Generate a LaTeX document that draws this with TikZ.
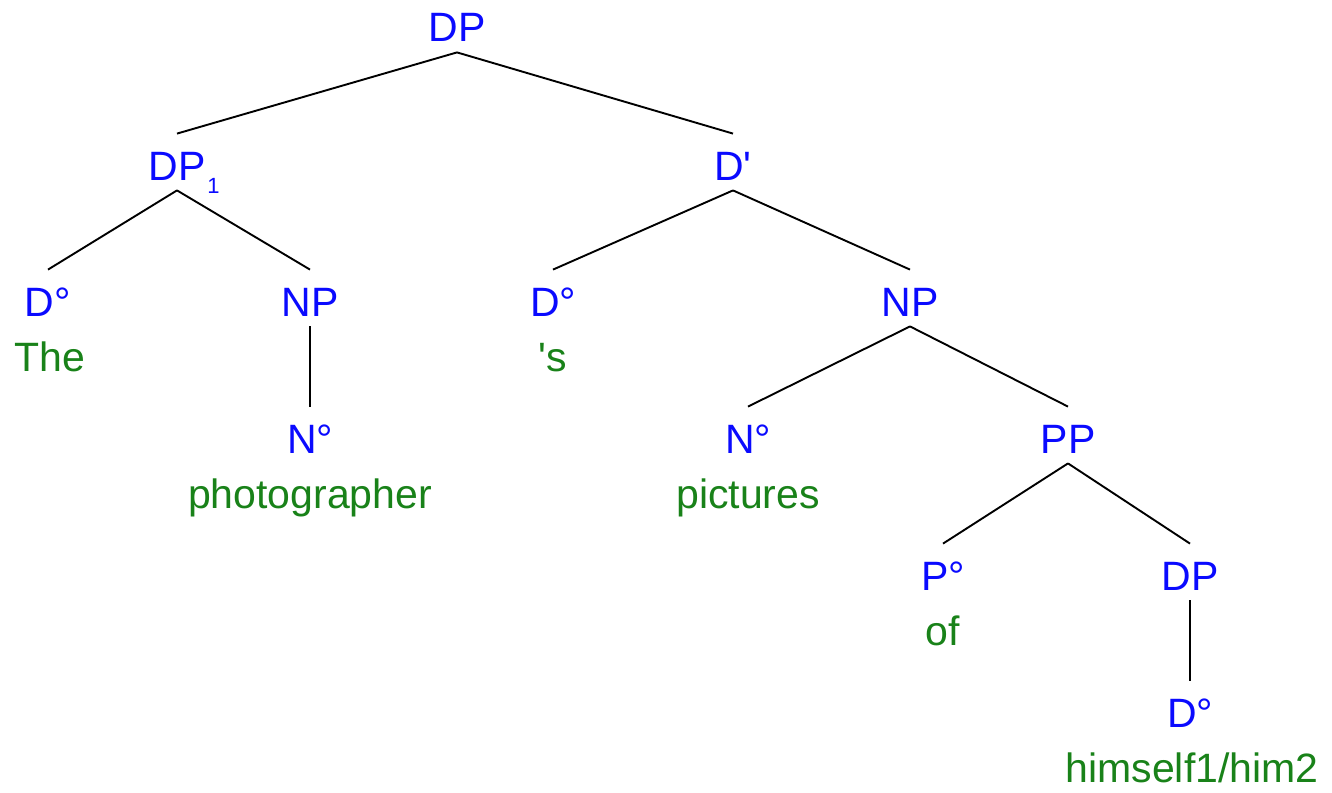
\documentclass[tikz,border=0pt]{standalone}
\usepackage{fontspec}
\setmainfont{Liberation Sans}
\usepackage{xcolor}
\usepackage{tikz}
\definecolor{catblue}{RGB}{10,10,255}
\definecolor{wordgreen}{RGB}{25,130,25}
\tikzset{
  cat/.style={text=catblue, inner sep=0pt, anchor=base,
    text height=23pt, text depth=5pt, font=\fontsize{20.5}{24}\selectfont},
  word/.style={text=wordgreen, inner sep=0pt, anchor=base,
    font=\fontsize{20.5}{24}\selectfont},
  branch/.style={line width=0.95pt}
}

\begin{document}
\begin{tikzpicture}[x=0.5pt, y=-0.5pt]
\useasboundingbox (0,0) rectangle (1332,792);

%0
\node[cat] (dp) at (457,42) {DP};

%1
\node[cat] (dpone) at (177,180) {DP\rlap{\kern1pt\raisebox{-6.5pt}{\fontsize{11}{12}\selectfont 1}}};
\node[cat] (dbar) at (733,180) {D\textquotesingle};
\draw[branch] (dp.south) -- (dpone.north);
\draw[branch] (dp.south) -- (dbar.north);

%2
\node[cat] (dhead) at (48,316) {D°};
    \node[word] (the) at (50,371) {The};
\node[cat] (np) at (310,316) {NP};
\node[cat] (dheadb) at (553,316) {D°};
    \node[word] (poss) at (553,371) {\textquotesingle s};
\node[cat] (npb) at (910,316) {NP};
\draw[branch] (dpone.south) -- (dhead.north);
\draw[branch] (dpone.south) -- (np.north);
\draw[branch] (dbar.south) -- (dheadb.north);
\draw[branch] (dbar.south) -- (npb.north);

%3
\node[cat] (nhead) at (310,453) {N°};
    \node[word] (photog) at (310,508) {photographer};
\node[cat] (nheadb) at (748,453) {N°};
    \node[word] (pics) at (748,508) {pictures};
\node[cat] (pp) at (1068,453) {PP};
\draw[branch] (np.south) -- (nhead.north);
\draw[branch] (npb.south) -- (nheadb.north);
\draw[branch] (npb.south) -- (pp.north);

%4
\node[cat] (phead) at (943,590) {P°};
    \node[word] (of) at (943,645) {of};
\node[cat] (dpb) at (1190,590) {DP};
\draw[branch] (pp.south) -- (phead.north);
\draw[branch] (pp.south) -- (dpb.north);

%5
\node[cat] (dheadc) at (1190,727) {D°};
    \node[word] (himself) at (1192,782) {himself1/him2};
\draw[branch] (dpb.south) -- (dheadc.north);

\end{tikzpicture}
\end{document}
